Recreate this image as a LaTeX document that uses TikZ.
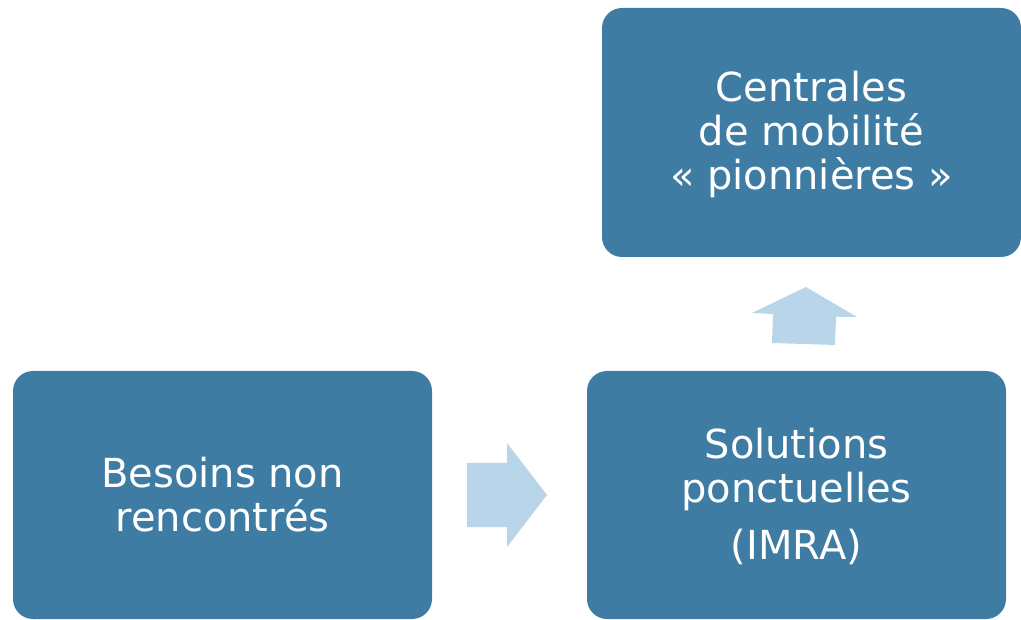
\documentclass[tikz,border=0pt]{standalone}
\usepackage{fontspec}
\setmainfont{DejaVu Sans}
\definecolor{boxblue}{HTML}{3E7CA3}
\definecolor{arrowblue}{HTML}{B9D5EA}
\begin{document}
\begin{tikzpicture}[x=1pt,y=-1pt,
  bluebox/.style={draw=none,fill=boxblue,rounded corners=20pt},
  boxtext/.style={text=white,align=center,font=\fontsize{40}{44}\selectfont,inner sep=0pt},
  arrowshape/.style={fill=arrowblue,draw=none}]
\useasboundingbox (0,0) rectangle (1021,620);
% boxes
\path[bluebox] (13,371) rectangle (432,619);
\path[bluebox] (587,371) rectangle (1006,619);
\path[bluebox] (602,8) rectangle (1021,257);
% texts
\node[boxtext] (besoins) at (222.5,495) {Besoins non\\rencontrés};
\node[boxtext] (solutions) at (796.5,496) {Solutions\\ponctuelles\\[13pt](IMRA)};
\node[boxtext] (centrales) at (811.5,134) {Centrales\\de mobilité\\« pionnières »};
% arrows
\coordinate (ra1) at (467,463);
\fill[arrowshape] (ra1) -- (507,463) -- (507,443) -- (547,495) -- (507,547) -- (507,527) -- (467,527) -- cycle;
\coordinate (ua1) at (806,287);
\fill[arrowshape] (ua1) -- (857,317) -- (836,317) -- (835,345) -- (772,343) -- (773,314) -- (752,313) -- cycle;
\end{tikzpicture}
\end{document}
